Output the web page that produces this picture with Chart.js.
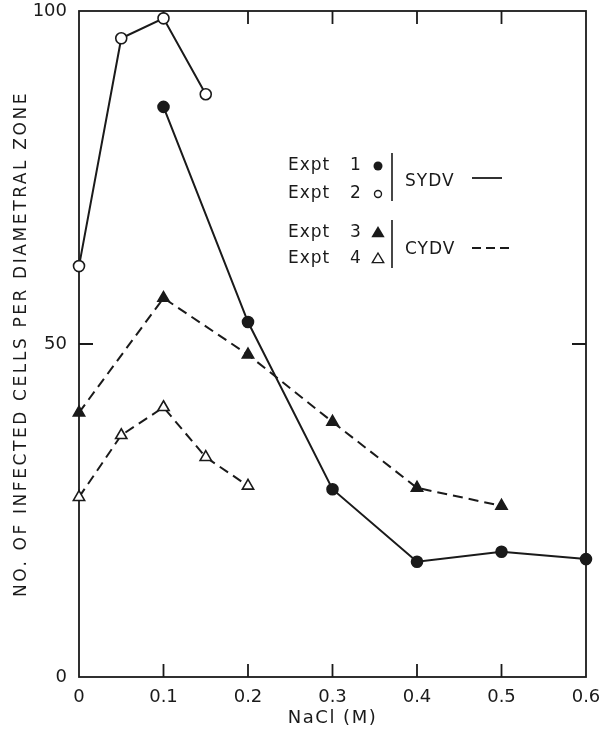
<!DOCTYPE html>
<html>
<head>
<meta charset="utf-8">
<script src="https://cdn.jsdelivr.net/npm/chart.js@4"></script>
<style>
  html, body { margin: 0; padding: 0; background: #fff; }
  #wrap { width: 608px; height: 739px; }
</style>
</head>
<body>
<div id="wrap"><canvas id="nacl"></canvas></div>
<script>
// NaCl concentration vs infected cells
const expt1X = [0.1, 0.2, 0.3, 0.4, 0.5, 0.6];
const expt1Y = [85.6, 53.3, 28.2, 17.3, 18.8, 17.7];
const expt2X = [0, 0.05, 0.1, 0.15];
const expt2Y = [61.7, 95.9, 98.9, 87.5];
const expt3X = [0, 0.1, 0.2, 0.3, 0.4, 0.5];
const expt3Y = [39.7, 56.9, 48.4, 38.3, 28.4, 25.7];
const expt4X = [0, 0.05, 0.1, 0.15, 0.2];
const expt4Y = [27.0, 36.3, 40.5, 33.0, 28.7];

const xTicks = [0, 0.1, 0.2, 0.3, 0.4, 0.5, 0.6];
const yTicks = [0, 50, 100];
const xTitle = 'NaCl (M)';
const yTitle = 'NO. OF INFECTED CELLS PER DIAMETRAL ZONE';
const legendWords = ['Expt', 'Expt', 'Expt', 'Expt'];
const legendNums = ['1', '2', '3', '4'];
const groupNames = ['SYDV', 'CYDV'];

const ink = '#1a1a1a';
const font = '"DejaVu Sans", sans-serif';

function pts(xs, ys) {
    return xs.map((x, i) => ({ x: x, y: ys[i] }));
}

function series(label, xs, ys, style, filled, dashed) {
    return {
        label: label,
        data: pts(xs, ys),
        showLine: true,
        borderColor: ink,
        borderWidth: 2,
        borderDash: dashed ? [10, 6] : [],
        pointStyle: style,
        pointRadius: style === 'triangle' ? 6.5 : 5.5,
        pointBorderWidth: 1.6,
        pointBackgroundColor: filled ? ink : '#fff',
        pointBorderColor: ink,
        clip: false
    };
}

// frame with inward ticks, titles and hand-made legend
const framePlugin = {
    id: 'frame',
    beforeDatasetsDraw(chart) {
        const { ctx, chartArea: a, scales: { x, y } } = chart;
        ctx.save();
        ctx.strokeStyle = ink;
        ctx.lineWidth = 1.8;
        ctx.strokeRect(a.left, a.top, a.right - a.left, a.bottom - a.top);
        ctx.beginPath();
        xTicks.slice(1, -1).forEach(v => {
            const px = x.getPixelForValue(v);
            ctx.moveTo(px, a.bottom); ctx.lineTo(px, a.bottom - 13);
            ctx.moveTo(px, a.top); ctx.lineTo(px, a.top + 13);
        });
        yTicks.slice(1, -1).forEach(v => {
            const py = y.getPixelForValue(v);
            ctx.moveTo(a.left, py); ctx.lineTo(a.left + 14, py);
            ctx.moveTo(a.right, py); ctx.lineTo(a.right - 14, py);
        });
        ctx.stroke();
        ctx.restore();
    },
    afterDraw(chart) {
        const { ctx, chartArea: a } = chart;
        ctx.save();
        ctx.fillStyle = ink;
        ctx.strokeStyle = ink;
        ctx.textAlign = 'center';
        ctx.textBaseline = 'middle';

        // axis titles
        ctx.letterSpacing = '1.5px';
        ctx.font = '18px ' + font;
        ctx.fillText(xTitle, (a.left + a.right) / 2, 718);
        ctx.letterSpacing = '2.6px';
        ctx.font = '17px ' + font;
        ctx.save();
        ctx.translate(22, (a.top + a.bottom) / 2);
        ctx.rotate(-Math.PI / 2);
        ctx.fillText(yTitle, 0, 0);
        ctx.restore();

        // legend
        ctx.letterSpacing = '1px';
        ctx.font = '17px ' + font;
        ctx.textAlign = 'left';
        const rowY = [166, 194, 233, 259];
        legendWords.forEach((t, i) => {
            ctx.fillText(t, 288, rowY[i]);
            ctx.fillText(legendNums[i], 350, rowY[i]);
        });

        ctx.lineWidth = 1.4;
        ctx.beginPath(); ctx.arc(378, rowY[0], 4.5, 0, Math.PI * 2); ctx.fill();
        ctx.beginPath(); ctx.arc(378, rowY[1], 3.5, 0, Math.PI * 2); ctx.stroke();
        const tri = (cx, cy, s, fill) => {
            ctx.beginPath();
            ctx.moveTo(cx, cy - s);
            ctx.lineTo(cx + s * 0.95, cy + s * 0.6);
            ctx.lineTo(cx - s * 0.95, cy + s * 0.6);
            ctx.closePath();
            fill ? ctx.fill() : ctx.stroke();
        };
        tri(378, rowY[2], 7, true);
        tri(378, rowY[3], 6, false);

        // braces
        ctx.lineWidth = 1.6;
        ctx.beginPath();
        ctx.moveTo(392, 153); ctx.lineTo(392, 201);
        ctx.moveTo(392, 220); ctx.lineTo(392, 268);
        ctx.stroke();

        ctx.fillText(groupNames[0], 405, 182);
        ctx.fillText(groupNames[1], 405, 250);

        ctx.lineWidth = 1.8;
        ctx.beginPath();
        ctx.moveTo(472, 178); ctx.lineTo(502, 178);
        ctx.stroke();
        ctx.setLineDash([9, 5]);
        ctx.beginPath();
        ctx.moveTo(472, 248); ctx.lineTo(512, 248);
        ctx.stroke();
        ctx.restore();
    }
};

const ctx = document.getElementById('nacl').getContext('2d');
const chart = new Chart(ctx, {
    type: 'scatter',
    data: {
        datasets: [
            series('Expt 1', expt1X, expt1Y, 'circle', true, false),
            series('Expt 2', expt2X, expt2Y, 'circle', false, false),
            series('Expt 3', expt3X, expt3Y, 'triangle', true, true),
            series('Expt 4', expt4X, expt4Y, 'triangle', false, true)
        ]
    },
    options: {
        responsive: true,
        maintainAspectRatio: false,
        animation: false,
        layout: { padding: { left: 0, top: 11, right: 22, bottom: 0 } },
        plugins: {
            legend: { display: false },
            tooltip: { enabled: false }
        },
        scales: {
            x: {
                type: 'linear',
                min: 0,
                max: 0.6,
                afterBuildTicks: s => { s.ticks = xTicks.map(v => ({ value: v })); },
                afterFit: s => { s.height = 62; s.paddingLeft = 0; s.paddingRight = 0; },
                border: { display: false },
                grid: { display: false, drawTicks: false },
                ticks: {
                    padding: 10,
                    color: ink,
                    font: { family: font, size: 18 },
                    callback: v => String(v)
                }
            },
            y: {
                type: 'linear',
                min: 0,
                max: 100,
                afterBuildTicks: s => { s.ticks = yTicks.map(v => ({ value: v })); },
                afterFit: s => { s.width = 79; s.paddingTop = 0; s.paddingBottom = 0; },
                border: { display: false },
                grid: { display: false, drawTicks: false },
                ticks: {
                    padding: 12,
                    color: ink,
                    font: { family: font, size: 18 }
                }
            }
        }
    },
    plugins: [framePlugin]
});
</script>
</body>
</html>
